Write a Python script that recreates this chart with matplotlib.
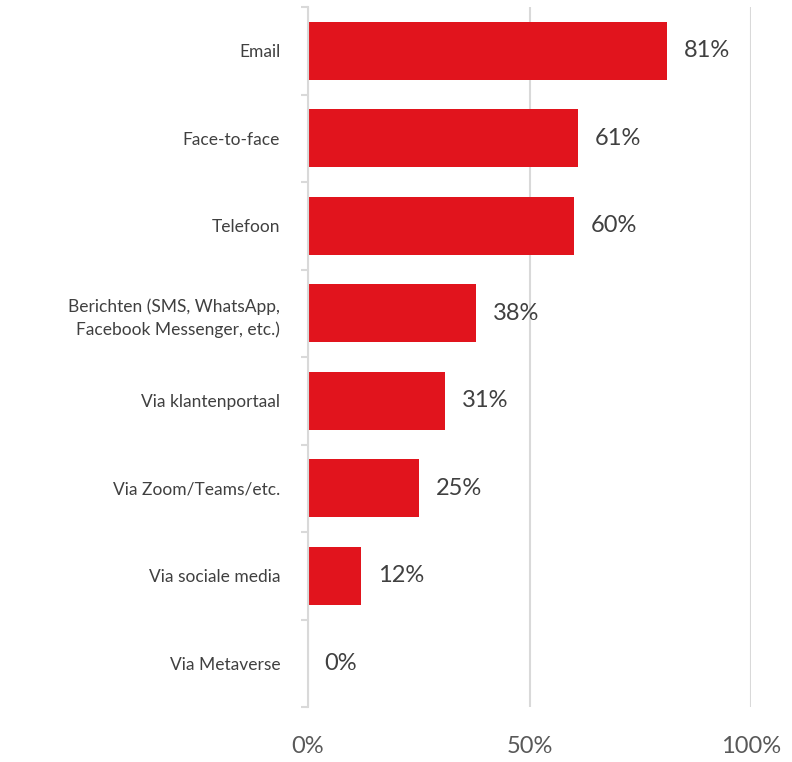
import matplotlib
matplotlib.use("Agg")
import matplotlib.pyplot as plt
from matplotlib.ticker import FuncFormatter

categories = ["Email", "Face-to-face", "Telefoon",
              "Berichten (SMS, WhatsApp,\nFacebook Messenger, etc.)",
              "Via klantenportaal", "Via Zoom/Teams/etc.",
              "Via sociale media", "Via Metaverse"]
values = [81, 61, 60, 38, 31, 25, 12, 0]
xticks = [0, 50, 100]

plt.rcParams['font.family'] = ['Lato', 'DejaVu Sans']
fig = plt.figure(figsize=(7.92, 7.62), dpi=100)
ax = fig.add_axes([308/792, 1-707/762, (751-308)/792, 700/762])

n = len(categories)
ypos = list(range(n))
ax.barh(ypos, values, height=0.66, color="#E1141D", zorder=3)
ax.set_ylim(n - 0.5, -0.5)
ax.set_xlim(0, 100)

for y, v in zip(ypos, values):
    ax.annotate(f"{v}%", (v, y), xytext=(12, 0), textcoords="offset points",
                va="center", ha="left", fontsize=17, color="#404040")

ax.set_xticks(xticks)
ax.xaxis.set_major_formatter(FuncFormatter(lambda x, p: f"{x:.0f}%"))
ax.tick_params(axis="x", length=0, pad=21, labelsize=17, labelcolor="#595959")
ax.set_yticks(ypos)
ax.set_yticklabels(categories, fontsize=12.5, color="#404040", linespacing=1.5)
ax.set_yticks([i - 0.5 for i in range(n + 1)], minor=True)
ax.tick_params(axis="y", which="major", length=0, pad=20)
ax.tick_params(axis="y", which="minor", length=5, width=1.5, color="#D9D9D9")
for lab in ax.get_yticklabels():
    lab.set_multialignment("right")

ax.grid(axis="x", color="#D9D9D9", linewidth=1.5, zorder=0)
for s in ["top", "right", "bottom"]:
    ax.spines[s].set_visible(False)
ax.spines["left"].set_color("#D9D9D9")
ax.spines["left"].set_linewidth(1.5)
ax.spines["left"].set_zorder(4)

fig.savefig("out.png", dpi=100)
